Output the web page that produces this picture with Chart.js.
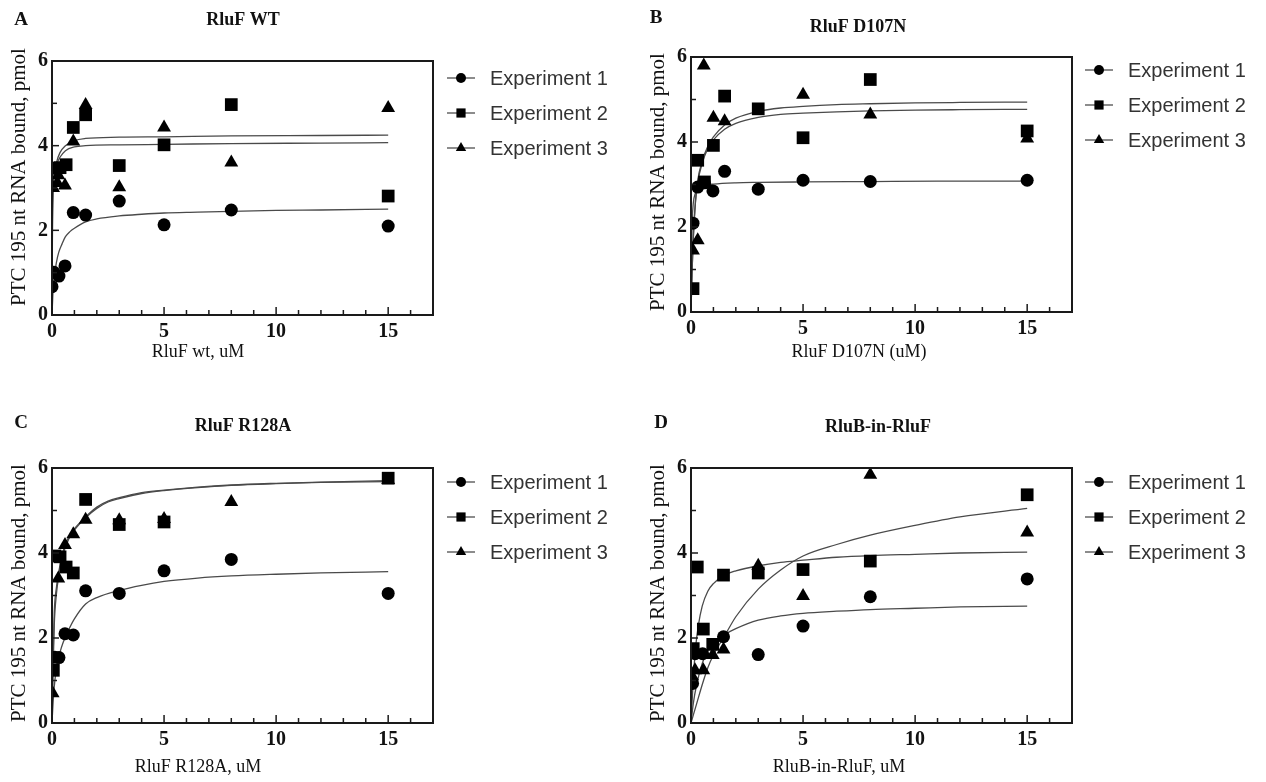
<!DOCTYPE html>
<html>
<head>
<meta charset="utf-8">
<title>PTC 195 nt RNA binding</title>
<script src="https://cdn.jsdelivr.net/npm/chart.js@4.4.1/dist/chart.umd.min.js"></script>
<style>
  html, body { margin: 0; padding: 0; background: #fff; }
  #wrap { position: relative; width: 1266px; height: 782px; overflow: hidden; }
  #wrap canvas { position: absolute; }
</style>
</head>
<body>
<div id="wrap">
  <canvas id="panelA" width="633" height="391" style="left:0;top:0"></canvas>
  <canvas id="panelB" width="633" height="391" style="left:633px;top:0"></canvas>
  <canvas id="panelC" width="633" height="391" style="left:0;top:391px"></canvas>
  <canvas id="panelD" width="633" height="391" style="left:633px;top:391px"></canvas>
</div>
<script>
// --- Labels ---
const seriesNames = ['Experiment 1', 'Experiment 2', 'Experiment 3'];
const panelLetters = ['A', 'B', 'C', 'D'];
const panelTitles = ['RluF WT', 'RluF D107N', 'RluF R128A', 'RluB-in-RluF'];
const xTitles = ['RluF wt, uM', 'RluF D107N (uM)', 'RluF R128A, uM', 'RluB-in-RluF, uM'];
const yTitle = 'PTC 195 nt RNA bound, pmol';
const xTickValues = [0, 5, 10, 15];
const yTickValues = [0, 2, 4, 6];

// --- A: RluF WT  (x = uM, y = pmol) ---
const wtExp1 = [[0.0,0.67],[0.09,1.01],[0.31,0.92],[0.58,1.16],[0.95,2.42],[1.5,2.36],[3,2.69],[5,2.13],[8,2.48],[15,2.1]];
const wtExp2 = [[0.09,3.47],[0.36,3.48],[0.63,3.55],[0.95,4.43],[1.5,4.73],[3,3.53],[5,4.02],[8,4.97],[15,2.81]];
const wtExp3 = [[0.05,3.0],[0.24,3.12],[0.28,3.3],[0.58,3.06],[0.95,4.1],[1.5,4.96],[3,3.02],[5,4.43],[8,3.6],[15,4.89]];
const wtFit1 = [[0,0],[0.05,0.6],[0.1,0.9],[0.2,1.25],[0.3,1.48],[0.45,1.68],[0.6,1.85],[0.8,1.97],[1,2.05],[1.5,2.2],[2,2.27],[3,2.34],[4,2.38],[5,2.41],[6.5,2.43],[8,2.45],[10,2.47],[12,2.48],[15,2.5]];
const wtFit2 = [[0,0],[0.02,2.2],[0.05,3.0],[0.1,3.35],[0.2,3.55],[0.35,3.72],[0.6,3.88],[1,3.97],[1.5,4.0],[3,4.02],[5,4.03],[8,4.05],[12,4.06],[15,4.07]];
const wtFit3 = [[0,0],[0.02,2.0],[0.05,2.9],[0.1,3.3],[0.2,3.6],[0.35,3.83],[0.6,4.0],[1,4.12],[1.5,4.17],[3,4.2],[5,4.21],[8,4.23],[12,4.24],[15,4.25]];

// --- B: RluF D107N ---
const d107nExp1 = [[0.09,2.09],[0.3,2.94],[0.6,3.04],[0.98,2.85],[1.5,3.31],[3,2.89],[5,3.1],[8,3.07],[15,3.1]];
const d107nExp2 = [[0.09,0.55],[0.3,3.57],[0.6,3.06],[1,3.92],[1.5,5.08],[3,4.78],[5,4.1],[8,5.47],[15,4.26]];
const d107nExp3 = [[0.09,1.45],[0.3,1.69],[0.57,5.8],[1,4.57],[1.5,4.49],[5,5.11],[8,4.65],[15,4.08]];
const d107nFit1 = [[0,0],[0.03,1.5],[0.06,2.2],[0.1,2.55],[0.2,2.8],[0.35,2.92],[0.6,2.98],[1,3.01],[2,3.04],[3,3.05],[5,3.06],[8,3.07],[11,3.08],[15,3.08]];
const d107nFit2 = [[0,0],[0.05,1.0],[0.1,1.7],[0.2,2.6],[0.3,3.1],[0.5,3.55],[0.75,3.9],[1,4.12],[1.5,4.4],[2,4.56],[3,4.72],[4,4.8],[5,4.84],[6.5,4.88],[8,4.9],[10,4.92],[12,4.93],[15,4.94]];
const d107nFit3 = [[0,0],[0.05,1.0],[0.1,1.7],[0.2,2.6],[0.3,3.05],[0.5,3.5],[0.75,3.85],[1,4.05],[1.5,4.3],[2,4.44],[3,4.58],[4,4.65],[5,4.68],[6.5,4.71],[8,4.73],[10,4.75],[12,4.76],[15,4.77]];

// --- C: RluF R128A ---
const r128aExp1 = [[0.13,1.55],[0.31,1.54],[0.58,2.1],[0.95,2.07],[1.5,3.11],[3,3.05],[5,3.58],[8,3.85],[15,3.05]];
const r128aExp2 = [[0.06,1.24],[0.13,3.93],[0.36,3.91],[0.63,3.67],[0.95,3.53],[1.5,5.26],[3,4.67],[5,4.73],[15,5.76]];
const r128aExp3 = [[0.03,0.7],[0.28,3.4],[0.58,4.19],[0.95,4.44],[1.5,4.78],[3,4.77],[5,4.8],[8,5.2],[15,5.72]];
const r128aFit1 = [[0,0],[0.05,0.5],[0.1,0.85],[0.2,1.3],[0.35,1.65],[0.5,1.9],[0.75,2.2],[1,2.45],[1.5,2.8],[2,2.95],[3,3.12],[4,3.24],[5,3.33],[6.5,3.41],[8,3.46],[10,3.5],[12,3.53],[15,3.56]];
const r128aFit2 = [[0,0],[0.05,1.6],[0.1,2.6],[0.2,3.2],[0.3,3.55],[0.5,4.05],[0.75,4.38],[1,4.57],[1.5,4.85],[2,5.08],[2.5,5.22],[3,5.3],[4,5.42],[5,5.48],[6.5,5.55],[8,5.6],[10,5.64],[12,5.67],[15,5.7]];
const r128aFit3 = [[0,0],[0.05,1.3],[0.1,2.3],[0.2,3.05],[0.3,3.45],[0.5,3.98],[0.75,4.33],[1,4.54],[1.5,4.83],[2,5.05],[2.5,5.2],[3,5.28],[4,5.4],[5,5.47],[6.5,5.54],[8,5.59],[10,5.63],[12,5.66],[15,5.68]];

// --- D: RluB-in-RluF ---
const rlubExp1 = [[0.07,0.93],[0.18,1.63],[0.52,1.63],[1.45,2.03],[3,1.61],[5,2.28],[8,2.97],[15,3.39]];
const rlubExp2 = [[0.1,1.75],[0.28,3.67],[0.55,2.21],[0.97,1.85],[1.45,3.48],[3,3.53],[5,3.61],[8,3.81],[15,5.37]];
const rlubExp3 = [[0.05,1.1],[0.18,1.24],[0.55,1.24],[0.97,1.6],[1.45,1.73],[3,3.7],[5,2.99],[8,5.84],[15,4.48]];
const rlubFit1 = [[0,0],[0.1,0.45],[0.25,0.9],[0.5,1.4],[0.75,1.7],[1,1.88],[1.5,2.08],[2,2.22],[3,2.42],[4,2.52],[5,2.58],[6.5,2.63],[8,2.67],[10,2.7],[12,2.73],[15,2.75]];
const rlubFit2 = [[0,0],[0.1,1.0],[0.2,1.75],[0.33,2.3],[0.5,2.75],[0.75,3.1],[1,3.28],[1.5,3.48],[2,3.58],[3,3.7],[4,3.78],[5,3.83],[6.5,3.9],[8,3.94],[10,3.97],[12,4.0],[15,4.02]];
const rlubFit3 = [[0,0],[0.25,0.45],[0.5,0.9],[0.75,1.3],[1,1.6],[1.5,2.05],[2,2.5],[3,3.15],[4,3.6],[5,3.93],[6.5,4.2],[8,4.42],[10,4.65],[12,4.85],[15,5.05]];

const panelPoints = [
    [wtExp1, wtExp2, wtExp3],
    [d107nExp1, d107nExp2, d107nExp3],
    [r128aExp1, r128aExp2, r128aExp3],
    [rlubExp1, rlubExp2, rlubExp3]
];
const panelFits = [
    [wtFit1, wtFit2, wtFit3],
    [d107nFit1, d107nFit2, d107nFit3],
    [r128aFit1, r128aFit2, r128aFit3],
    [rlubFit1, rlubFit2, rlubFit3]
];

// --- Layout (canvas coords of each quadrant) ---
const panelLayout = [
    { id: 'panelA', padTop: 61, padRight: 200, yAxisW: 52, xAxisH: 76, letter: [21, 20], title: [243, 20], xTitle: [198, 352], yTitle: [19, 177], legend: [447, 78] },
    { id: 'panelB', padTop: 57, padRight: 194, yAxisW: 58, xAxisH: 79, letter: [23, 18], title: [225, 27], xTitle: [226, 352], yTitle: [25, 182], legend: [452, 70] },
    { id: 'panelC', padTop: 77, padRight: 200, yAxisW: 52, xAxisH: 59, letter: [21, 32], title: [243, 35], xTitle: [198, 376], yTitle: [19, 202], legend: [447, 91] },
    { id: 'panelD', padTop: 77, padRight: 194, yAxisW: 58, xAxisH: 59, letter: [28, 32], title: [245, 36], xTitle: [206, 376], yTitle: [25, 202], legend: [452, 91] }
];

const markerStyles = ['circle', 'rect', 'triangle'];
const markerRadius = [6.5, 9, 8];
const legendRadius = [5, 6.5, 6];
const INK = '#111';

const toXY = arr => arr.map(p => ({ x: p[0], y: p[1] }));

// frame, inward ticks, titles and legend
const panelDecor = {
    id: 'panelDecor',
    afterDraw(chart, args, o) {
        const { ctx, chartArea: a } = chart;
        const xs = chart.scales.x, ys = chart.scales.y;
        ctx.save();

        ctx.strokeStyle = '#1a1a1a';
        ctx.lineWidth = 2;
        ctx.strokeRect(a.left, a.top, a.right - a.left, a.bottom - a.top);

        ctx.lineWidth = 1.5;
        for (let v = 0; v <= 17; v++) {
            const px = xs.getPixelForValue(v);
            const len = v % 5 === 0 ? 8 : 5;
            ctx.beginPath(); ctx.moveTo(px, a.bottom); ctx.lineTo(px, a.bottom - len); ctx.stroke();
        }
        for (let v = 0; v <= 6; v++) {
            const py = ys.getPixelForValue(v);
            const len = v % 2 === 0 ? 7 : 5;
            ctx.beginPath(); ctx.moveTo(a.left, py); ctx.lineTo(a.left + len, py); ctx.stroke();
        }

        ctx.fillStyle = INK;
        ctx.textBaseline = 'middle';
        ctx.textAlign = 'center';
        ctx.font = 'bold 19px "Liberation Serif"';
        ctx.fillText(o.letter, o.pos.letter[0], o.pos.letter[1]);
        ctx.font = 'bold 18px "Liberation Serif"';
        ctx.fillText(o.title, o.pos.title[0], o.pos.title[1]);
        ctx.font = '18px "Liberation Serif"';
        ctx.fillText(o.xTitle, o.pos.xTitle[0], o.pos.xTitle[1]);

        ctx.save();
        ctx.translate(o.pos.yTitle[0], o.pos.yTitle[1]);
        ctx.rotate(-Math.PI / 2);
        ctx.font = '21px "Liberation Serif"';
        ctx.fillText(yTitle, 0, 0);
        ctx.restore();

        // legend
        const [lx, ly] = o.pos.legend;
        seriesNames.forEach((name, i) => {
            const yy = ly + i * 35;
            ctx.strokeStyle = '#666';
            ctx.lineWidth = 1.5;
            ctx.beginPath(); ctx.moveTo(lx, yy); ctx.lineTo(lx + 28, yy); ctx.stroke();
            ctx.fillStyle = '#000';
            Chart.helpers.drawPoint(ctx, { pointStyle: markerStyles[i], radius: legendRadius[i], borderWidth: 0, rotation: 0 }, lx + 14, yy);
            ctx.fillStyle = '#333';
            ctx.textAlign = 'left';
            ctx.font = '20px "Liberation Sans"';
            ctx.fillText(name, lx + 43, yy + 1);
        });

        ctx.restore();
    }
};

panelLayout.forEach((p, k) => {
    const datasets = [];
    panelFits[k].forEach((fit, i) => {
        datasets.push({
            label: seriesNames[i] + ' fit',
            data: toXY(fit),
            showLine: true,
            borderColor: '#4a4a4a',
            borderWidth: 1.3,
            pointRadius: 0,
            cubicInterpolationMode: 'monotone',
            order: 2
        });
    });
    panelPoints[k].forEach((pts, i) => {
        datasets.push({
            label: seriesNames[i],
            data: toXY(pts),
            showLine: false,
            pointStyle: markerStyles[i],
            pointRadius: markerRadius[i],
            backgroundColor: '#000',
            borderColor: '#000',
            borderWidth: 0,
            order: 1
        });
    });

    new Chart(document.getElementById(p.id), {
        type: 'scatter',
        data: { datasets },
        options: {
            responsive: false,
            animation: false,
            events: [],
            layout: { padding: { left: 0, top: p.padTop, right: p.padRight, bottom: 0 } },
            plugins: {
                legend: { display: false },
                tooltip: { enabled: false },
                panelDecor: { letter: panelLetters[k], title: panelTitles[k], xTitle: xTitles[k], pos: p }
            },
            scales: {
                x: {
                    type: 'linear', min: 0, max: 17,
                    grid: { display: false, drawTicks: false },
                    border: { display: false },
                    ticks: { color: INK, padding: 5, maxRotation: 0, font: { family: 'Liberation Serif', size: 20, weight: 'bold' } },
                    afterBuildTicks: s => { s.ticks = xTickValues.map(v => ({ value: v })); },
                    afterFit: s => { s.height = p.xAxisH; }
                },
                y: {
                    type: 'linear', min: 0, max: 6,
                    grid: { display: false, drawTicks: false },
                    border: { display: false },
                    ticks: { color: INK, padding: 4, font: { family: 'Liberation Serif', size: 20, weight: 'bold' } },
                    afterBuildTicks: s => { s.ticks = yTickValues.map(v => ({ value: v })); },
                    afterFit: s => { s.width = p.yAxisW; }
                }
            }
        },
        plugins: [panelDecor]
    });
});
</script>
</body>
</html>
